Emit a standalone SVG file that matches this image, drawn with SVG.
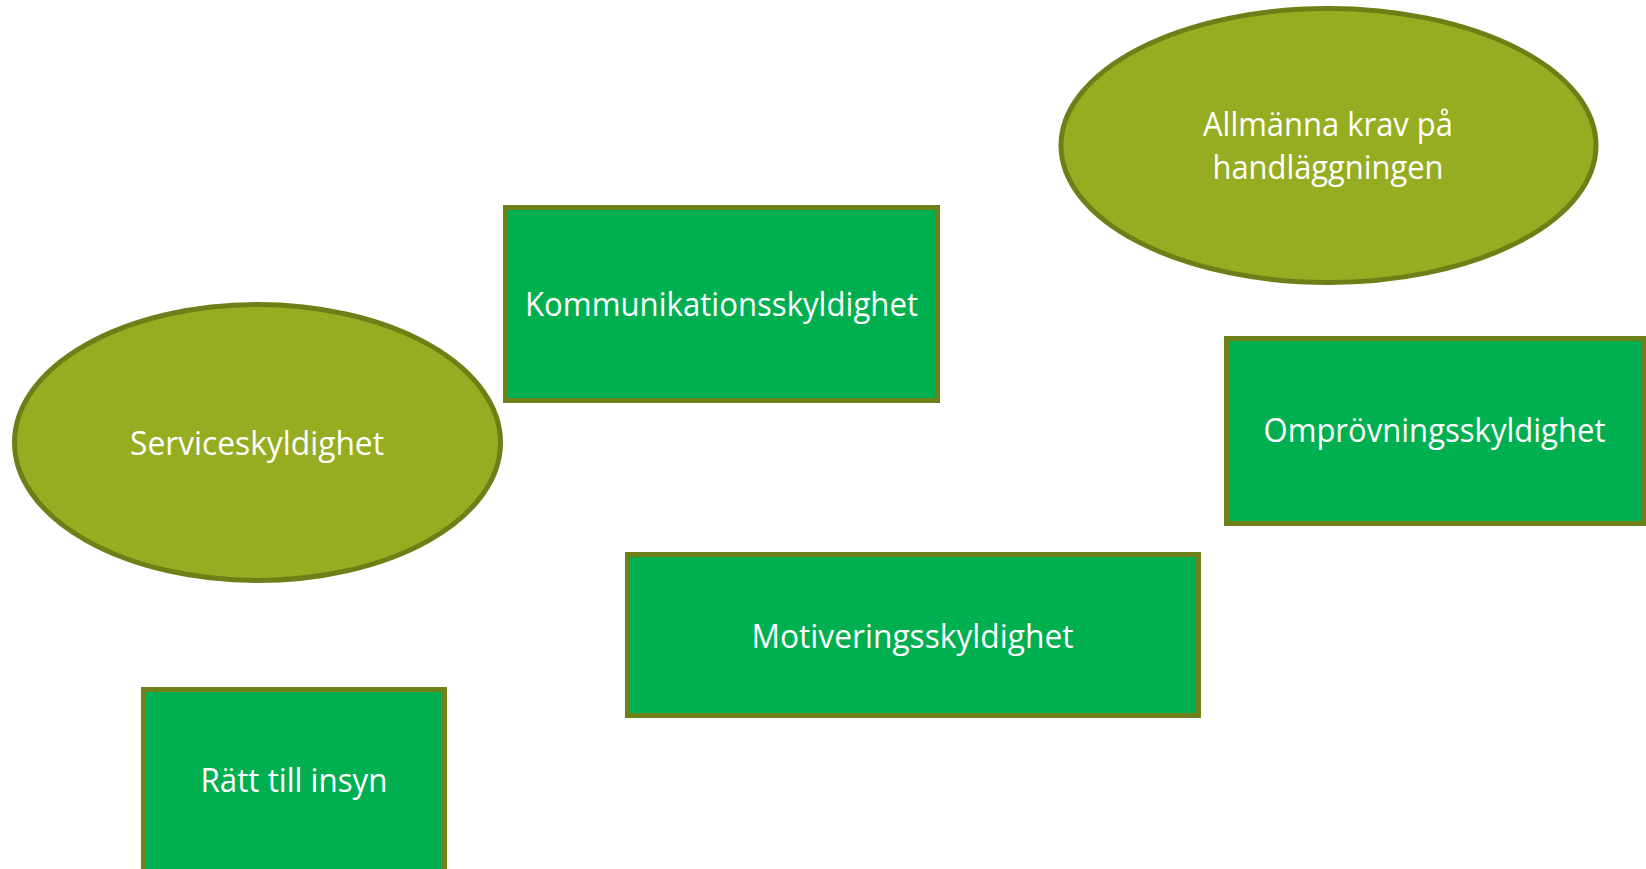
<svg xmlns="http://www.w3.org/2000/svg" width="1646" height="869" viewBox="0 0 1646 869">
<style>
.oval{fill:#97AD21;stroke:#6E7F17;stroke-width:5}
.box{fill:#00AF50;stroke:#6F8019;stroke-width:5}
.lbl{font-family:"Open Sans","Liberation Sans",sans-serif;font-size:33px;fill:#FFFFFF;text-anchor:middle}
</style>
<rect width="1646" height="869" fill="#FFFFFF"/>
<g id="connectors"></g>
<g id="node-allmanna">
<ellipse class="oval" cx="1328.5" cy="145.5" rx="267.5" ry="137"/>
<text class="lbl" x="1328" y="136" textLength="250" lengthAdjust="spacingAndGlyphs">Allmänna krav på</text>
<text class="lbl" x="1328" y="179" textLength="231" lengthAdjust="spacingAndGlyphs">handläggningen</text>
</g>
<g id="node-kommunikation">
<rect class="box" x="505.5" y="207.5" width="432" height="193"/>
<text class="lbl" x="721.5" y="316" textLength="393" lengthAdjust="spacingAndGlyphs">Kommunikationsskyldighet</text>
</g>
<g id="node-service">
<ellipse class="oval" cx="257.5" cy="442.5" rx="243" ry="138"/>
<text class="lbl" x="257" y="455" textLength="254" lengthAdjust="spacingAndGlyphs">Serviceskyldighet</text>
</g>
<g id="node-omprovning">
<rect class="box" x="1226.5" y="338.5" width="417" height="185"/>
<text class="lbl" x="1434.5" y="442" textLength="342" lengthAdjust="spacingAndGlyphs">Omprövningsskyldighet</text>
</g>
<g id="node-motivering">
<rect class="box" x="627.5" y="554.5" width="571" height="161"/>
<text class="lbl" x="912.5" y="648" textLength="322" lengthAdjust="spacingAndGlyphs">Motiveringsskyldighet</text>
</g>
<g id="node-ratt">
<rect class="box" x="143.5" y="689.5" width="301" height="200"/>
<text class="lbl" x="294" y="792" textLength="187" lengthAdjust="spacingAndGlyphs">Rätt till insyn</text>
</g>
</svg>
